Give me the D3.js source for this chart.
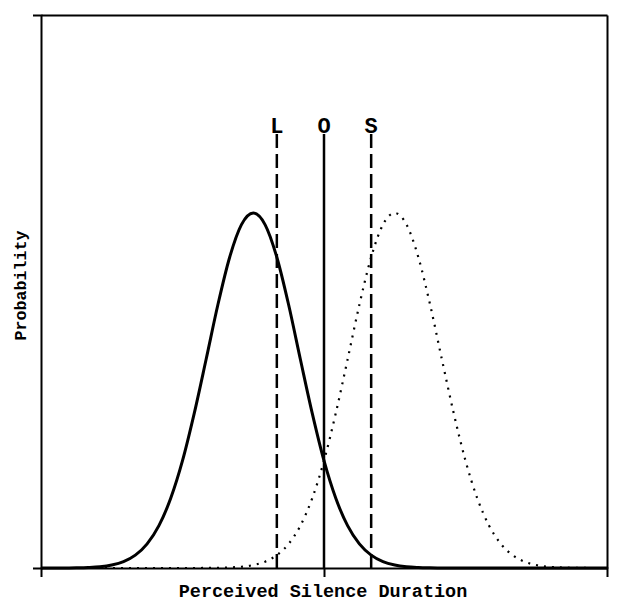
<!DOCTYPE html>
<html>
<head>
<meta charset="utf-8">
<script src="https://cdn.jsdelivr.net/npm/d3@7"></script>
<style>
  html, body { margin: 0; padding: 0; background: #fff; }
  svg { display: block; }
</style>
</head>
<body>
<svg id="chart" width="617" height="608"></svg>
<script>
// ---- data ----
const xPoints = [-6, -5.75, -5.5, -5.25, -5, -4.75, -4.5, -4.25, -4, -3.75, -3.5, -3.25, -3,
  -2.75, -2.5, -2.25, -2, -1.75, -1.5, -1.25, -1, -0.75, -0.5, -0.25, 0,
  0.25, 0.5, 0.75, 1, 1.25, 1.5, 1.75, 2, 2.25, 2.5, 2.75, 3, 3.25, 3.5,
  3.75, 4, 4.25, 4.5, 4.75, 5, 5.25, 5.5, 5.75, 6];
const solidValues = [0, 0, 0.0001, 0.0004, 0.001, 0.0023, 0.0054, 0.0115, 0.0232, 0.0436, 0.0766, 0.126, 0.194,
  0.280, 0.377, 0.476, 0.562, 0.621, 0.642, 0.621, 0.562, 0.476, 0.377, 0.280, 0.194,
  0.126, 0.0766, 0.0436, 0.0232, 0.0115, 0.0054, 0.0023, 0.001, 0.0004, 0.0001, 0, 0, 0, 0,
  0, 0, 0, 0, 0, 0, 0, 0, 0, 0];
const dottedValues = [0, 0, 0, 0, 0, 0, 0, 0, 0, 0, 0, 0, 0,
  0, 0.0001, 0.0004, 0.001, 0.0023, 0.0054, 0.0115, 0.0232, 0.0436, 0.0766, 0.126, 0.194,
  0.280, 0.377, 0.476, 0.562, 0.621, 0.642, 0.621, 0.562, 0.476, 0.377, 0.280, 0.194, 0.126, 0.0766,
  0.0436, 0.0232, 0.0115, 0.0054, 0.0023, 0.001, 0.0004, 0.0001, 0, 0];
const markerLabels = ["L", "O", "S"];
const markerPositions = [-1, 0, 1];
const markerStyles = ["dashed", "solid", "dashed"];
const markerTop = 0.785;
const xTicks = [0];
const xTitle = "Perceived Silence Duration";
const yTitle = "Probability";

// ---- layout ----
const svg = d3.select("#chart");
const mLeft = 41, mRight = 607, mTop = 15, mBottom = 568;
const x = d3.scaleLinear().domain([-6, 6]).range([mLeft, mRight]);
const y = d3.scaleLinear().domain([0, 1]).range([mBottom, mTop]);
const font = "'Liberation Mono', 'Courier New', monospace";

// frame via axes
const axStyle = g => {
  g.selectAll("path, line").attr("stroke", "#000").attr("stroke-width", 2);
  g.selectAll("text").remove();
};
svg.append("g").attr("transform", `translate(0,${mBottom})`)
  .call(d3.axisBottom(x).tickValues(xTicks).tickSize(9).tickSizeOuter(9).tickFormat(""))
  .call(axStyle);
svg.append("g").attr("transform", `translate(${mLeft},0)`)
  .call(d3.axisLeft(y).tickValues([]).tickSizeOuter(8))
  .call(axStyle);
svg.append("g").attr("transform", `translate(0,${mTop})`)
  .call(d3.axisTop(x).tickValues([]).tickSizeOuter(0))
  .call(axStyle);
svg.append("g").attr("transform", `translate(${mRight},0)`)
  .call(d3.axisRight(y).tickValues([]).tickSizeOuter(0))
  .call(axStyle);

// curves
const line = d3.line().x((d, i) => x(xPoints[i])).y(d => y(d)).curve(d3.curveMonotoneX);
svg.append("path").datum(dottedValues).attr("d", line)
  .attr("fill", "none").attr("stroke", "#000").attr("stroke-width", 2.2)
  .attr("stroke-dasharray", "2,6");
svg.append("path").datum(solidValues).attr("d", line)
  .attr("fill", "none").attr("stroke", "#000").attr("stroke-width", 3);

// marker lines
markerPositions.forEach((p, i) => {
  svg.append("line")
    .attr("x1", x(p)).attr("x2", x(p))
    .attr("y1", y(0)).attr("y2", y(markerTop))
    .attr("stroke", "#000").attr("stroke-width", 2.5)
    .attr("stroke-dasharray", markerStyles[i] === "dashed" ? "14,6" : null);
  svg.append("text")
    .attr("x", x(p)).attr("y", y(markerTop) - 1)
    .attr("text-anchor", "middle")
    .attr("font-family", font).attr("font-weight", "bold").attr("font-size", 22)
    .text(markerLabels[i]);
});

// titles
svg.append("text")
  .attr("x", (mLeft + mRight) / 2 - 1).attr("y", 597)
  .attr("text-anchor", "middle")
  .attr("font-family", font).attr("font-weight", "bold").attr("font-size", 18.5)
  .text(xTitle);
svg.append("text")
  .attr("transform", `translate(26,${(mTop + mBottom) / 2 - 6}) rotate(-90)`)
  .attr("text-anchor", "middle")
  .attr("font-family", font).attr("font-weight", "bold").attr("font-size", 16.7)
  .text(yTitle);
</script>
</body>
</html>
